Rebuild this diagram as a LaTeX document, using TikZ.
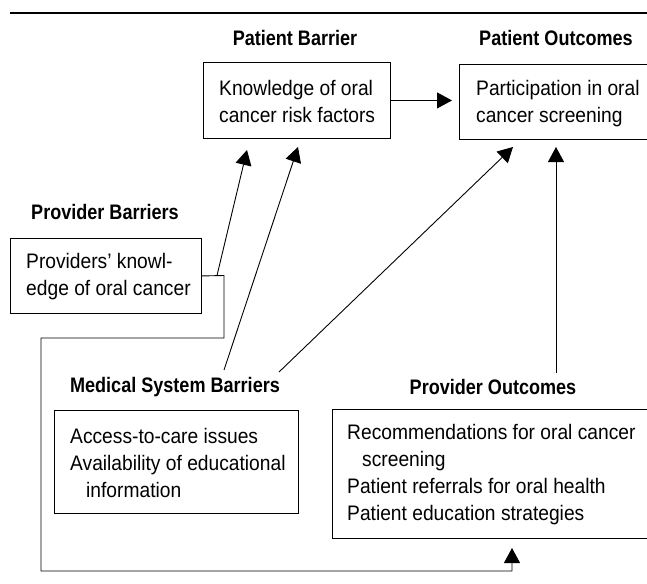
\documentclass[tikz,border=0pt]{standalone}
\usepackage{fontspec}
\setmainfont{Liberation Sans}[FakeStretch=0.915]
\newfontfamily\titlefont{Liberation Sans}[FakeStretch=0.86]
\usetikzlibrary{arrows.meta}
\begin{document}
\begin{tikzpicture}[x=1pt,y=-1pt,
  box/.style={draw, line width=0.9pt, rectangle, anchor=north west, inner sep=0pt},
  txt/.style={anchor=west, align=left, inner sep=0pt, font=\fontsize{21}{27}\selectfont},
  ttl/.style={font=\titlefont\bfseries\fontsize{21}{24}\selectfont, inner sep=0pt},
  arr/.style={line width=0.9pt, -{Triangle[length=15pt,width=16pt]}}]
\useasboundingbox (0,0) rectangle (647,583);
\clip (0,0) rectangle (647,583);
% top rule
\coordinate (r1) at (10,13);
\coordinate (r2) at (650,13);
\draw[line width=2.6pt] (r1) -- (r2);
% titles
\node[ttl] (tk) at (295,38) {Patient Barrier};
\node[ttl] (tp) at (556,38) {Patient Outcomes};
\node[ttl] (tpk) at (105,212) {Provider Barriers};
\node[ttl] (tm) at (175,387) {Medical System Barriers};
\node[ttl] (tpo) at (493,387) {Provider Outcomes};
% boxes
\node[box, minimum width=187pt, minimum height=76pt] (k) at (203,62) {};
\node[txt] (kt) at ([xshift=16pt,yshift=-1pt]k.west) {Knowledge of oral\\cancer risk factors};
\node[box, minimum width=204pt, minimum height=75pt] (p) at (459,64) {};
\node[txt] (pt) at ([xshift=17pt,yshift=-2pt]p.west) {Participation in oral\\cancer screening};
\node[box, minimum width=191pt, minimum height=75pt] (pk) at (10,238) {};
\node[txt] (pkt) at ([xshift=16pt,yshift=-1pt]pk.west) {Providers’ knowl-\\edge of oral cancer};
\node[box, minimum width=244pt, minimum height=103pt] (m) at (54,410) {};
\node[txt] (mt) at ([xshift=16pt,yshift=-1pt]m.west) {Access-to-care issues\\Availability of educational\\\hspace*{16pt}information};
\node[box, minimum width=330pt, minimum height=129pt] (po) at (332,409) {};
\node[txt] (pot) at ([xshift=15pt,yshift=-1pt]po.west) {Recommendations for oral cancer\\\hspace*{15pt}screening\\Patient referrals for oral health\\Patient education strategies};
% connector coordinates
\coordinate (e1) at (224,275.5);
\coordinate (e2) at (224,338);
\coordinate (e3) at (41,338);
\coordinate (e4) at (41,571);
\coordinate (fb) at (512,548);
\coordinate (a1s) at (217,275.5);
\coordinate (a1t) at (247,150);
\coordinate (a2s) at (224,370);
\coordinate (a2t) at (298,147);
\coordinate (a3s) at (279,372);
\coordinate (a3t) at (513,147);
\coordinate (a4s) at (556,373);
\coordinate (a4t) at (556,147);
% connectors
\draw[arr, shorten >=7pt] (k.east) -- (p.west |- k.east);
\draw[arr] (pk.east) -- (e1) -- (e2) -- (e3) -- (e4) -| (fb);
\draw[arr] (a1s) -- (a1t);
\draw[arr] (a2s) -- (a2t);
\draw[arr] (a3s) -- (a3t);
\draw[arr] (a4s) -- (a4t);
\end{tikzpicture}
\end{document}
